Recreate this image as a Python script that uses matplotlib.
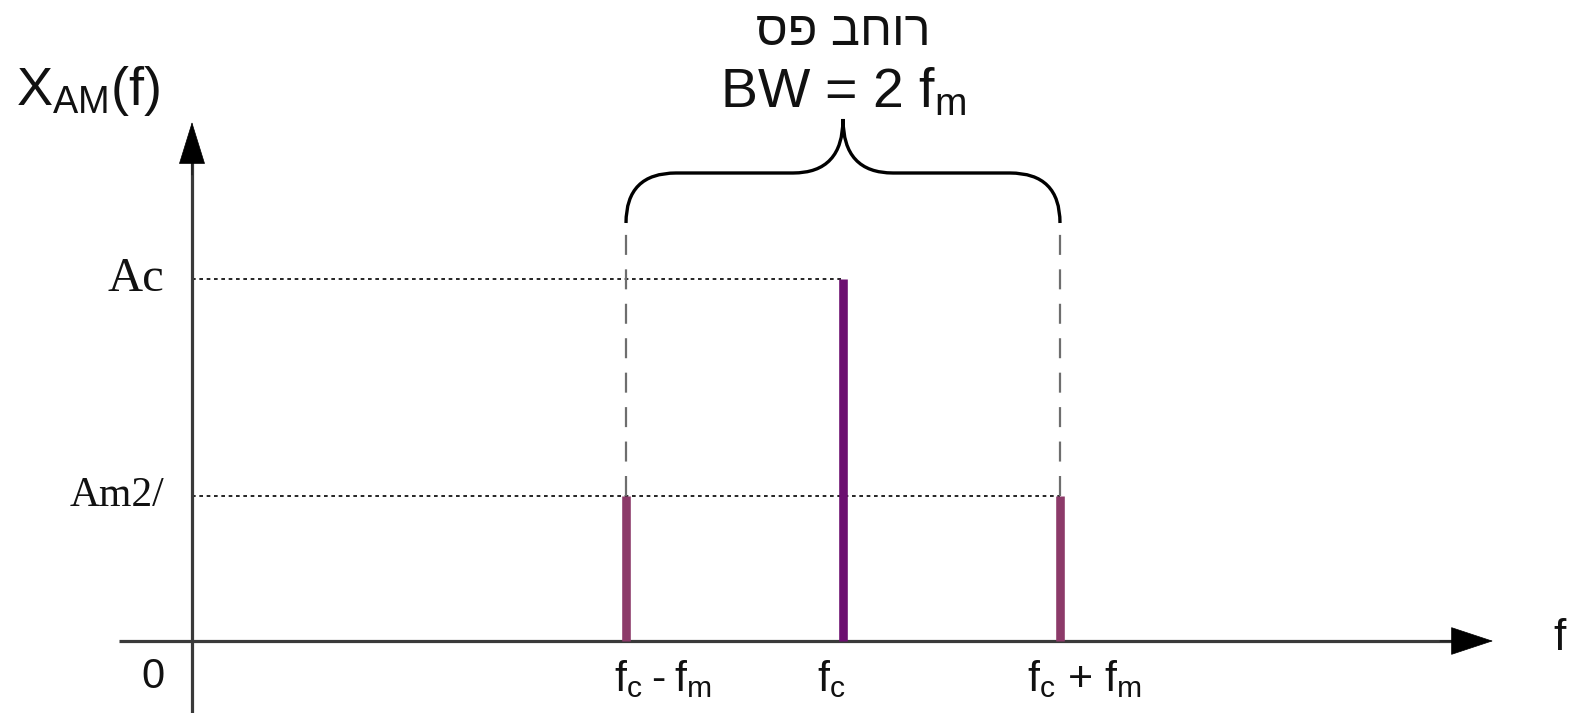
import matplotlib
matplotlib.use('Agg')
import matplotlib.pyplot as plt
from matplotlib.path import Path
from matplotlib.patches import PathPatch

# ---- data ----
freqs = [2, 3, 4]                 # fc - fm, fc, fc + fm   (fc = 3, fm = 1)
amps = [0.4, 1.0, 0.4]            # Am/2, Ac, Am/2
freq_labels = [r'$\mathregular{f_c}$' + '\u2009-\u2009' + r'$\mathregular{f_m}$', r'$\mathregular{f_c}$',
               r'$\mathregular{f_c}$ + $\mathregular{f_m}$']
level_labels = ['Am2/', 'Ac']
level_values = [0.4, 1.0]
level_sizes = [30, 35]
bar_colors = ['#8c3a69', '#6c0f70', '#8c3a69']
title_he = 'ספ בחור'              # "רוחב פס" in visual order
title_bw = r'BW = 2 $\mathregular{f_m}$'
ylabel = r'$\mathregular{X_{AM}(f)}$'
xlabel = 'f'

# ---- layout (pixel scale helpers) ----
W, H = 1581, 713
PX, PY = 217.0, 362.0          # pixels per data unit
OX, OY = 192.0, 641.0          # pixel position of the origin

def dx(p):
    return p / PX

def dy(p):
    return p / PY

plt.rcParams['font.family'] = ['Liberation Sans', 'DejaVu Sans']
fig = plt.figure(figsize=(W / 100, H / 100), dpi=100)
ax = fig.add_axes([0, 0, 1, 1])
ax.set_xlim(-OX / PX, (W - OX) / PX)
ax.set_ylim(-(H - OY) / PY, OY / PY)
ax.axis('off')

axis_col = '#3a3a3a'
# axes with arrows
ax.plot([dx(119 - OX), dx(1455 - OX)], [0, 0], color=axis_col, lw=2.3, solid_capstyle='butt', zorder=2)
ax.plot([0, 0], [-(H - OY) / PY, dy(OY - 160)], color=axis_col, lw=2.3, solid_capstyle='butt', zorder=2)
ax.annotate('', xy=(dx(1493 - OX), 0), xytext=(dx(1440 - OX), 0),
            arrowprops=dict(arrowstyle='-|>,head_length=1.45,head_width=0.48', mutation_scale=20,
                            color='black', lw=0.5, shrinkA=0, shrinkB=0))
ax.annotate('', xy=(0, dy(OY - 122)), xytext=(0, dy(OY - 175)),
            arrowprops=dict(arrowstyle='-|>,head_length=1.45,head_width=0.45', mutation_scale=20,
                            color='black', lw=0.5, shrinkA=0, shrinkB=0))

# spectral lines
ax.vlines(freqs, 0, amps, colors=bar_colors, lw=6.2, zorder=3, capstyle='butt')

# dotted level lines
ax.plot([0, freqs[1]], [amps[1], amps[1]], color='black', lw=1.2, ls=(0, (2.2, 2.2)), zorder=1)
ax.plot([0, freqs[2]], [amps[0], amps[0]], color='black', lw=1.2, ls=(0, (2.2, 2.2)), zorder=1)

# brace geometry
y_end = dy(OY - 223)
y_mid = dy(OY - 173)
y_top = dy(OY - 119)
r = dx(50)
left, right, cen = freqs[0], freqs[2], freqs[1]

# dashed side lines
for f, a in [(freqs[0], amps[0]), (freqs[2], amps[2])]:
    ax.plot([f, f], [a, y_end - dy(4)], color='#6e6e6e', lw=1.6, ls=(0, (9, 6.5)), zorder=1)

verts = [(left, y_end), (left, y_mid), (left + r, y_mid),
         (cen - r, y_mid), (cen, y_mid), (cen, y_top),
         (cen, y_mid), (cen + r, y_mid),
         (right - r, y_mid), (right, y_mid), (right, y_end)]
codes = [Path.MOVETO, Path.CURVE3, Path.CURVE3,
         Path.LINETO, Path.CURVE3, Path.CURVE3,
         Path.CURVE3, Path.CURVE3,
         Path.LINETO, Path.CURVE3, Path.CURVE3]
ax.add_patch(PathPatch(Path(verts, codes), fill=False, lw=2.4, edgecolor='black', zorder=4))

# texts
ax.text(cen, dy(OY - 33), title_he, ha='center', va='center', fontsize=35, color='#111111',
        family=['Liberation Sans', 'DejaVu Sans'])
ax.text(cen, dy(OY - 93), title_bw, ha='center', va='center', fontsize=40, color='#111111')
ax.text(dx(16 - OX), dy(OY - 91), ylabel, ha='left', va='center', fontsize=39, color='#111111')
ax.text(dx(1560 - OX), dy(OY - 638), xlabel, ha='center', va='center', fontsize=32, color='#111111')
ax.text(dx(153 - OX), dy(OY - 677), '0', ha='center', va='center', fontsize=30, color='#111111')

for lab, val, fs in zip(level_labels, level_values, level_sizes):
    ax.text(dx(164 - OX), val, lab, ha='right', va='center', fontsize=fs, color='#111111',
            family=['Liberation Serif', 'DejaVu Serif'])

label_offsets = [-12, -26, -33]
for f, lab, off in zip(freqs, freq_labels, label_offsets):
    ax.text(f + dx(off), dy(OY - 679), lab, ha='left', va='center', fontsize=31, color='#111111')

fig.savefig('out.png', dpi=100)
